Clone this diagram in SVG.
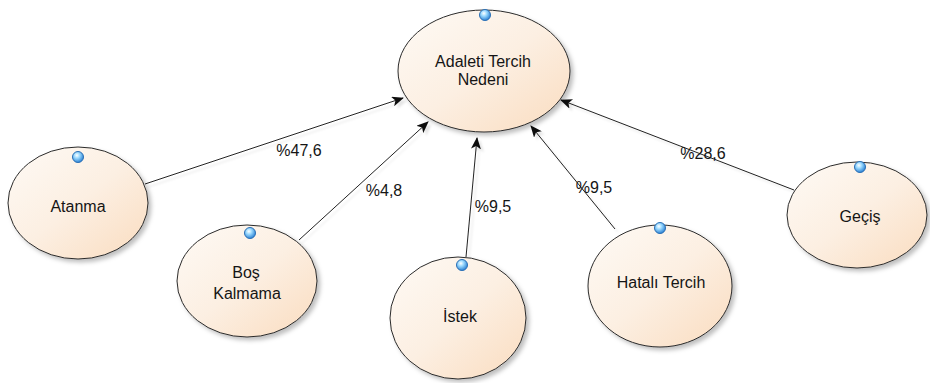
<svg xmlns="http://www.w3.org/2000/svg" width="930" height="383" viewBox="0 0 930 383">
<defs>
<linearGradient id="fillG" x1="0" y1="0" x2="1" y2="1">
<stop offset="0" stop-color="#fefaf5"/>
<stop offset="0.5" stop-color="#fcefe2"/>
<stop offset="1" stop-color="#fadcbf"/>
</linearGradient>
<radialGradient id="dotG" cx="0.4" cy="0.35" r="0.7">
<stop offset="0" stop-color="#ffffff"/>
<stop offset="0.35" stop-color="#9fdcff"/>
<stop offset="1" stop-color="#1f78d0"/>
</radialGradient>
<filter id="sh" x="-20%" y="-20%" width="140%" height="140%">
<feDropShadow dx="3" dy="3" stdDeviation="2" flood-color="#000" flood-opacity="0.25"/>
</filter>
<filter id="lsh" x="-10%" y="-10%" width="120%" height="120%">
<feDropShadow dx="3" dy="3" stdDeviation="1" flood-color="#000" flood-opacity="0.1"/>
</filter>
<marker id="arr" viewBox="0 0 12 10" refX="11" refY="5" markerWidth="12" markerHeight="10" markerUnits="userSpaceOnUse" orient="auto">
<path d="M0,0 L12,5 L0,10 L3,5 Z" fill="#111"/>
</marker>
</defs>
<style>
.node ellipse.b{fill:url(#fillG);stroke:#2b2b2b;stroke-width:1;filter:url(#sh)}
.dot{fill:url(#dotG);stroke:#2a6fb5;stroke-width:1}
text{font-family:"Liberation Sans",Arial,sans-serif;font-size:16px;fill:#151515}
.c{text-anchor:middle}
.conn line{stroke:#222;stroke-width:1;marker-end:url(#arr)}
</style>
<rect width="930" height="383" fill="#ffffff"/>
<g id="connectors" filter="url(#lsh)">
<g class="conn">
<line x1="145" y1="184" x2="403" y2="98"/>
<line x1="299" y1="240" x2="428" y2="122"/>
<line x1="466" y1="257" x2="477" y2="138"/>
<line x1="615" y1="229" x2="531" y2="126"/>
<line x1="794" y1="190" x2="561" y2="100"/>
</g>
</g>
<g id="labels">
<text class="c" x="299" y="156">%47,6</text>
<text class="c" x="384" y="196">%4,8</text>
<text class="c" x="493" y="212">%9,5</text>
<text class="c" x="594" y="193">%9,5</text>
<text class="c" x="703" y="159">%28,6</text>
</g>
<g id="node-adaleti" class="node">
<ellipse class="b" cx="484" cy="71" rx="86" ry="61"/>
<circle class="dot" cx="485" cy="15" r="5.5"/>
<text class="c" x="483" y="67">Adaleti Tercih</text>
<text class="c" x="483" y="85">Nedeni</text>
</g>
<g id="node-atanma" class="node">
<ellipse class="b" cx="78" cy="203" rx="70" ry="56"/>
<circle class="dot" cx="78" cy="157" r="5.5"/>
<text class="c" x="78" y="212">Atanma</text>
</g>
<g id="node-bos" class="node">
<ellipse class="b" cx="247" cy="281" rx="70" ry="56"/>
<circle class="dot" cx="250" cy="233" r="5.5"/>
<text class="c" x="246" y="278">Boş</text>
<text class="c" x="247" y="299">Kalmama</text>
</g>
<g id="node-istek" class="node">
<ellipse class="b" cx="458" cy="318" rx="68" ry="61"/>
<circle class="dot" cx="462" cy="265" r="5.5"/>
<text class="c" x="460" y="322">İstek</text>
</g>
<g id="node-hatali" class="node">
<ellipse class="b" cx="660" cy="286" rx="72" ry="61"/>
<circle class="dot" cx="660" cy="228" r="5.5"/>
<text class="c" x="661" y="288">Hatalı Tercih</text>
</g>
<g id="node-gecis" class="node">
<ellipse class="b" cx="857" cy="215" rx="70" ry="53"/>
<circle class="dot" cx="860" cy="167" r="5.5"/>
<text class="c" x="860" y="222">Geçiş</text>
</g>
</svg>
